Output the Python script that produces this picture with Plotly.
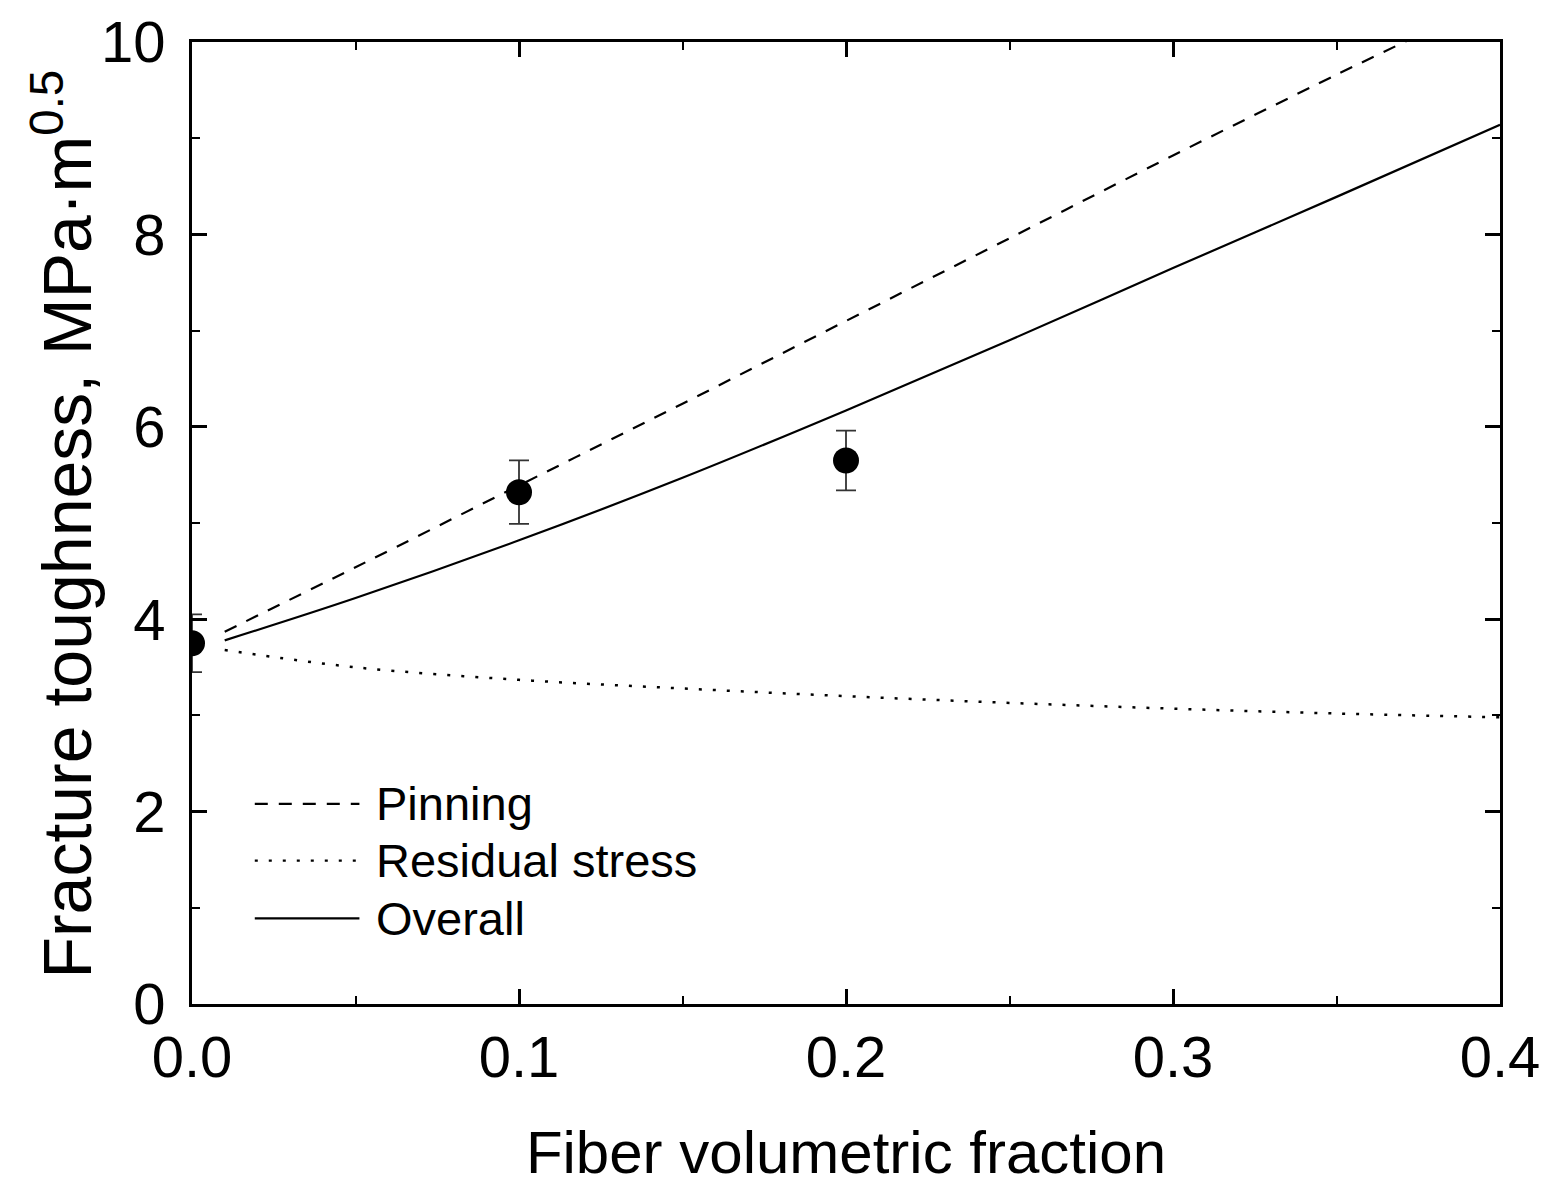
import plotly.graph_objects as go

# Experimental data
exp_x = [0.0, 0.1, 0.2]
exp_y = [3.75, 5.32, 5.65]
exp_err = [0.30, 0.33, 0.31]

# Model curves
pin_x = [0.01, 0.05, 0.10, 0.15, 0.20, 0.25, 0.30, 0.35, 0.372]
pin_y = [3.87, 4.54, 5.39, 6.24, 7.10, 7.96, 8.82, 9.66, 10.02]

res_x = [0.01, 0.05, 0.10, 0.15, 0.20, 0.25, 0.30, 0.35, 0.40]
res_y = [3.68, 3.50, 3.37, 3.28, 3.20, 3.13, 3.07, 3.02, 2.98]

ovr_x = [0.01, 0.05, 0.10, 0.15, 0.20, 0.25, 0.30, 0.35, 0.40]
ovr_y = [3.78, 4.22, 4.82, 5.47, 6.17, 6.90, 7.65, 8.39, 9.14]

legend_labels = ["Pinning", "Residual stress", "Overall"]
legend_dash = ["13px,11px", "3px,11px", "solid"]

x_title = "Fiber volumetric fraction"
y_title = "Fracture toughness, MPa·m<sup>0.5</sup>"

FONT = "Liberation Sans, Arial, sans-serif"

fig = go.Figure()
fig.add_trace(go.Scatter(x=pin_x, y=pin_y, mode="lines", name=legend_labels[0],
                         line=dict(color="black", width=2.2, dash=legend_dash[0], shape="spline"),
                         showlegend=False))
fig.add_trace(go.Scatter(x=res_x, y=res_y, mode="lines", name=legend_labels[1],
                         line=dict(color="black", width=2.5, dash=legend_dash[1], shape="spline"),
                         showlegend=False))
fig.add_trace(go.Scatter(x=ovr_x, y=ovr_y, mode="lines", name=legend_labels[2],
                         line=dict(color="black", width=2.2, shape="spline"), showlegend=False))
fig.add_trace(go.Scatter(x=exp_x, y=exp_y, mode="markers", name="Experiment",
                         marker=dict(color="black", size=26),
                         error_y=dict(type="data", array=exp_err, color="#333333", thickness=1.8, width=10),
                         showlegend=False))

# Manual legend (line samples + labels) inside plot area
leg_y = [0.208, 0.149, 0.089]
for lab, dsh, yy in zip(legend_labels, legend_dash, leg_y):
    fig.add_shape(type="line", xref="paper", yref="paper", x0=0.048, x1=0.128, y0=yy, y1=yy,
                  line=dict(color="black", width=2.2, dash=dsh))
    fig.add_annotation(xref="paper", yref="paper", x=0.139, y=yy, text=lab, showarrow=False,
                       xanchor="left", yanchor="middle", font=dict(family=FONT, size=47, color="black"))

# Y axis title placed as rotated annotation for precise position
fig.add_annotation(xref="paper", yref="paper", x=-0.0985, y=0.4985, text=y_title, textangle=-90,
                   showarrow=False, xanchor="center", yanchor="middle",
                   font=dict(family=FONT, size=68, color="black"))

axis_common = dict(showline=True, linecolor="black", linewidth=3, mirror="ticks",
                   ticks="inside", tickcolor="black", tickwidth=2.5, ticklen=15,
                   showgrid=False, zeroline=False, automargin=False,
                   tickfont=dict(family=FONT, size=58, color="black"))

fig.update_xaxes(range=[0, 0.4], dtick=0.1, tickformat=".1f", ticklabelstandoff=0,
                 minor=dict(ticks="inside", dtick=0.05, ticklen=8, tickwidth=2, tickcolor="black"),
                 title=dict(text=x_title, font=dict(family=FONT, size=60, color="black"),
                            standoff=44),
                 **axis_common)
fig.update_yaxes(range=[0, 10], dtick=2, ticklabelstandoff=12,
                 minor=dict(ticks="inside", dtick=1, ticklen=8, tickwidth=2, tickcolor="black"),
                 **axis_common)

fig.update_layout(width=1552, height=1186, autosize=False,
                  margin=dict(l=184, r=60, t=34, b=190),
                  paper_bgcolor="white", plot_bgcolor="white",
                  font=dict(family=FONT, color="black"))

fig.write_html("out.html")
